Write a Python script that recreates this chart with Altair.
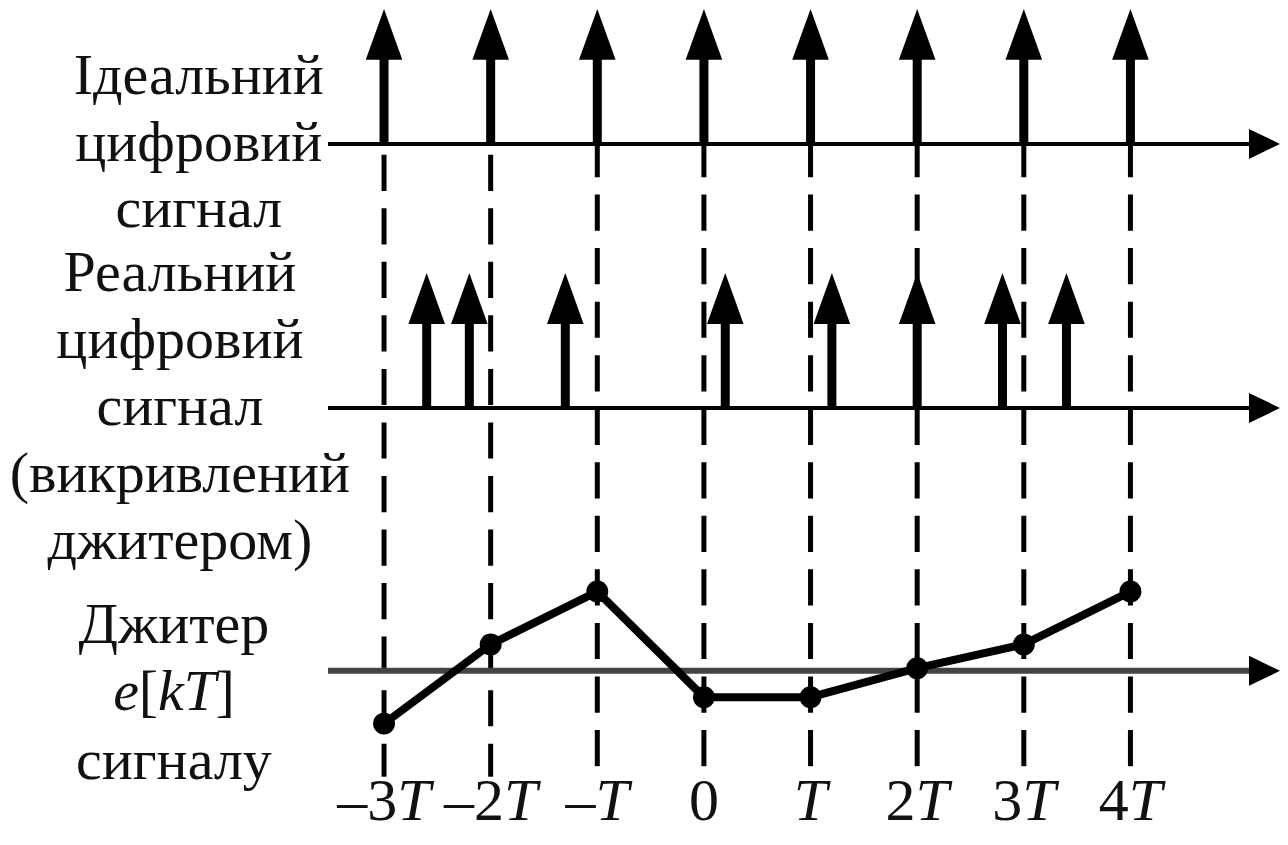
import altair as alt
import pandas as pd

# ---------------- data ----------------
ideal_k = [-3, -2, -1, 0, 1, 2, 3, 4]                      # ideal sampling instants (units of T)
real_t = [-2.6, -2.2, -1.3, 0.2, 1.2, 2.0, 2.8, 3.4]        # actual (jittered) instants (units of T)
jitter = [-2, 1, 3, -1, -1, 0.1, 1, 3]                      # e[kT] (relative units)
tick_num = ["–3", "–2", "–", "0", "", "2", "3", "4"]
tick_T = ["T", "T", "T", "", "T", "T", "T", "T"]
label_ideal = ["Ідеальний", "цифровий", "сигнал"]
label_real = ["Реальний", "цифровий", "сигнал", "(викривлений", "джитером)"]
label_jit_top = "Джитер"
label_jit_mid = [("e", "italic"), ("[", "normal"), ("kT", "italic"), ("]", "normal")]
label_jit_bot = "сигналу"

# ---------------- layout ----------------
W, H = 1272, 828
SX = W / 1280.0
SY = 0.978
OY = 9
T_REF = 107.3          # reference px per T
K0_REF = 708.3         # reference x of t = 0
FONT = "Liberation Serif"
FS = 58
FS_TICK = 60


def px(rx):
    return (rx - 8) * SX


def py(ry):
    return (ry - OY) * SY


def k_of(rx):
    return (rx - K0_REF) / T_REF


XDOM = [k_of(8), k_of(1288)]
YDOM = [OY + H / SY, OY]          # y channel expressed in reference pixel rows

BASE_IDEAL, BASE_REAL, BASE_JIT = 148.0, 418.0, 686.7
IMP_H = 138.0
HEAD = 52.0
JIT_UNIT = 27.0

xs = alt.Scale(domain=XDOM, range=[0, W])
ys = alt.Scale(domain=YDOM)

# impulses
imp = pd.DataFrame(
    [{"t": k, "base": BASE_IDEAL + 2, "tip": BASE_IDEAL - IMP_H, "stem": BASE_IDEAL - IMP_H + HEAD - 4} for k in ideal_k]
    + [{"t": t, "base": BASE_REAL + 2, "tip": BASE_REAL - IMP_H, "stem": BASE_REAL - IMP_H + HEAD - 4} for t in real_t]
)

stems = alt.Chart(imp).mark_rule(color="black", strokeWidth=9).encode(
    x=alt.X("t:Q", scale=xs, axis=None),
    y=alt.Y("base:Q", scale=ys, axis=None),
    y2="stem:Q",
)
r_head = HEAD * SY / 2
heads = alt.Chart(imp).mark_point(
    shape="M0,0L0.72,2L-0.72,2Z", filled=True, opacity=1, color="black",
    size=(2 * r_head) ** 2, strokeWidth=0,
).encode(x=alt.X("t:Q", scale=xs, axis=None), y=alt.Y("tip:Q", scale=ys, axis=None))

# dashed guide lines
dash_rows = []
for k in ideal_k:
    if k <= -2:
        dash_rows.append({"k": k, "y0": 159, "y1": 795})
    else:
        dash_rows.append({"k": k, "y0": 145, "y1": 785})
dashes = alt.Chart(pd.DataFrame(dash_rows)).mark_rule(
    color="black", strokeWidth=5, strokeDash=[37 * SY, 17.75 * SY]
).encode(
    x=alt.X("k:Q", scale=xs, axis=None),
    y=alt.Y("y0:Q", scale=ys, axis=None),
    y2="y1:Q",
)

# axis lines and arrows
axes_df = pd.DataFrame([
    {"x0": k_of(330), "x1": k_of(1262), "y": BASE_IDEAL, "col": "#000000", "sw": 4},
    {"x0": k_of(330), "x1": k_of(1262), "y": BASE_REAL, "col": "#000000", "sw": 4},
    {"x0": k_of(330), "x1": k_of(1262), "y": BASE_JIT, "col": "#444444", "sw": 6},
])
axis_lines = alt.Chart(axes_df).mark_rule().encode(
    x=alt.X("x0:Q", scale=xs, axis=None),
    x2="x1:Q",
    y=alt.Y("y:Q", scale=ys, axis=None),
    color=alt.Color("col:N", scale=None),
    strokeWidth=alt.StrokeWidth("sw:Q", scale=None),
)
arrow_df = pd.DataFrame({"x": [XDOM[1]] * 3, "y": [BASE_IDEAL, BASE_REAL, BASE_JIT]})
axis_arrows = alt.Chart(arrow_df).mark_point(
    shape="M0,0L-2,-0.97L-2,0.97Z", filled=True, opacity=1, color="black",
    size=31 ** 2, strokeWidth=0,
).encode(x=alt.X("x:Q", scale=xs, axis=None), y=alt.Y("y:Q", scale=ys, axis=None))

# jitter curve
jit_df = pd.DataFrame({"k": ideal_k, "e": jitter})
jit_df["y"] = BASE_JIT - jit_df["e"] * JIT_UNIT
jit_line = alt.Chart(jit_df).mark_line(color="black", strokeWidth=8).encode(
    x=alt.X("k:Q", scale=xs, axis=None), y=alt.Y("y:Q", scale=ys, axis=None)
)
jit_pts = alt.Chart(jit_df).mark_circle(color="black", opacity=1, size=480).encode(
    x=alt.X("k:Q", scale=xs, axis=None), y=alt.Y("y:Q", scale=ys, axis=None)
)

# ---------------- texts ----------------
center_rows = []
for i, s in enumerate(label_ideal):
    center_rows.append({"px": px(200), "py": py(97 + 68 * i), "text": s})
for i, s in enumerate(label_real):
    center_rows.append({"px": px(181), "py": py(298 + 68.5 * i), "text": s})
center_rows.append({"px": px(175), "py": py(658), "text": label_jit_top})
center_rows.append({"px": px(175), "py": py(797), "text": label_jit_bot})

left_rows = []
# e[kT] built from pieces, centred on x = 175
wmap = {"e": 0.444, "[": 0.333, "]": 0.333, "k": 0.444, "T": 0.556}
widths = [sum(wmap[c] for c in s) * FS for s, _ in label_jit_mid]
x = 175 - sum(widths) / 2
for (s, st), w in zip(label_jit_mid, widths):
    left_rows.append({"px": px(x), "py": py(727), "text": s, "style": st})
    x += w

# tick labels: upright number part + italic T
tick_num_rows, tick_T_rows, tick_c_rows = [], [], []
for k, n, t in zip(ideal_k, tick_num, tick_T):
    xr = K0_REF + k * T_REF
    wn = len(n) * 0.5 * FS_TICK
    wt = 0.556 * FS_TICK if t else 0
    if n and t:
        split = xr + (wn - wt) / 2
        tick_num_rows.append({"px": px(split), "py": py(839), "text": n})
        tick_T_rows.append({"px": px(split), "py": py(839), "text": t})
    elif n:
        tick_c_rows.append({"px": px(xr), "py": py(839), "text": n, "style": "normal"})
    else:
        tick_c_rows.append({"px": px(xr), "py": py(839), "text": t, "style": "italic"})

TXT = "#111111"


def text_layer(rows, align, fs, style=None):
    df = pd.DataFrame(rows)
    kw = dict(font=FONT, fontSize=fs, align=align, baseline="alphabetic", color=TXT)
    if style:
        kw["fontStyle"] = style
    enc = dict(
        x=alt.X("px:Q", scale=None, axis=None),
        y=alt.Y("py:Q", scale=None, axis=None),
        text="text:N",
    )
    return alt.Chart(df).mark_text(**kw).encode(**enc)


left_norm = [r for r in left_rows if r["style"] == "normal"]
left_ital = [r for r in left_rows if r["style"] == "italic"]
tick_c_norm = [r for r in tick_c_rows if r["style"] == "normal"]
tick_c_ital = [r for r in tick_c_rows if r["style"] == "italic"]

texts = [
    text_layer(center_rows, "center", FS),
    text_layer(left_norm, "left", FS),
    text_layer(left_ital, "left", FS, "italic"),
    text_layer(tick_num_rows, "right", FS_TICK),
    text_layer(tick_T_rows, "left", FS_TICK, "italic"),
    text_layer(tick_c_norm, "center", FS_TICK),
    text_layer(tick_c_ital, "center", FS_TICK, "italic"),
]

chart = alt.layer(
    dashes, axis_lines, axis_arrows, stems, heads, jit_line, jit_pts, *texts
).properties(
    width=W, height=H, padding=0, autosize="none", background="white"
).configure_view(strokeWidth=0)

chart.save("out.html", embed_options={"renderer": "svg", "actions": False})
